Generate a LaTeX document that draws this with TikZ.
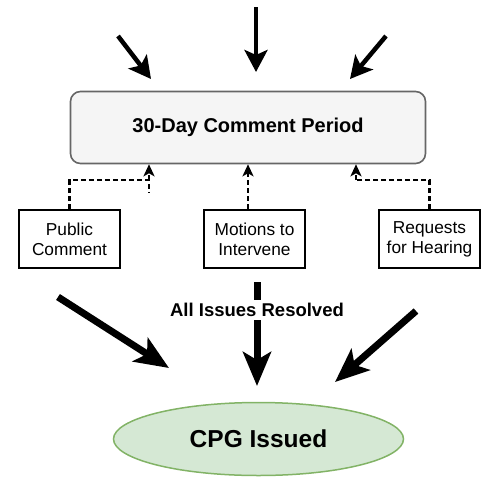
\documentclass[tikz,border=0pt]{standalone}
\usepackage{fontspec}
\setmainfont{Liberation Sans}
\usetikzlibrary{arrows.meta,shapes.geometric}

\definecolor{boxgray}{HTML}{F5F5F5}
\definecolor{edgegray}{HTML}{666666}
\definecolor{cpggreen}{HTML}{D5E8D4}
\definecolor{cpgedge}{HTML}{82B366}

\begin{document}
\begin{tikzpicture}[x=1pt,y=-1pt,
    mainbox/.style={rectangle,rounded corners=10pt,fill=boxgray,draw=edgegray,line width=1.6pt,
        minimum width=355pt,minimum height=72pt,font=\fontsize{20}{24}\selectfont\bfseries},
    inbox/.style={rectangle,draw=black,line width=2.6pt,minimum width=101pt,minimum height=58pt,
        align=center,font=\fontsize{17.3}{20}\selectfont},
    cpgnode/.style={ellipse,fill=cpggreen,draw=cpgedge,line width=1.5pt,
        minimum width=290pt,minimum height=73pt,font=\fontsize{24.5}{28}\selectfont\bfseries},
    toparrow/.style={line width=4.5pt,-{Stealth[length=22pt,width=23pt,inset=5pt]}},
    bigarrow/.style={line width=7pt,-{Stealth[length=34pt,width=28pt,inset=8pt]}},
    dashlink/.style={line width=2.6pt,dash pattern=on 5pt off 3pt},
    dashtip/.style={dashlink,-{Stealth[length=12pt,width=11pt,inset=3pt]}},
    lbl/.style={fill=white,inner xsep=1pt,inner ysep=3.5pt,font=\fontsize{18.5}{22}\selectfont\bfseries}]
                \useasboundingbox (0,0) rectangle (488,483);
                % nodes
                \node[mainbox] (cp) at (248,127.5) {30-Day Comment Period};
                \node[inbox] (pc) at (69.5,239) {Public\\Comment};
                \node[inbox] (mi) at (254.5,239) {Motions to\\Intervene};
                \node[inbox] (rh) at (429.5,239) {Requests\\for Hearing};
                \node[cpgnode] (cpg) at (258.5,439) {CPG Issued};
                % free ends
                \coordinate (t1) at (118,36);
                \coordinate (t1e) at (151,79);
                \coordinate (t2) at (256,7);
                \coordinate (t2e) at (256,72);
                \coordinate (t3) at (386,36);
                \coordinate (t3e) at (350,79);
                \coordinate (b1) at (58,297);
                \coordinate (b1e) at (169,368);
                \coordinate (b2) at (257,282);
                \coordinate (b2e) at (257,386);
                \coordinate (b3) at (416,311);
                \coordinate (b3e) at (335,382);
                \coordinate (j1) at (149,180);
                \coordinate (j3) at (356,180);
                % inputs to the comment period
                \draw[toparrow] (t1) -- (t1e);
                \draw[toparrow] (t2) -- (t2e);
                \draw[toparrow] (t3) -- (t3e);
                % dashed links
                \draw[dashlink] (pc.north) |- (j1) -- ++(0,12);
                \draw[dashtip] (j1) -- (j1 |- cp.south);
                \draw[dashtip] (mi.north -| 248,0) -- (cp.south -| 248,0);
                \draw[dashlink] (rh.north) |- (j3);
                \draw[dashtip] (j3) -- (j3 |- cp.south);
                % outputs
                \draw[bigarrow] (b1) -- (b1e);
                \draw[bigarrow] (b2) -- node[lbl,pos=0.27] (air) {All Issues Resolved} (b2e);
                \draw[bigarrow] (b3) -- (b3e);
            \end{tikzpicture}
\end{document}
